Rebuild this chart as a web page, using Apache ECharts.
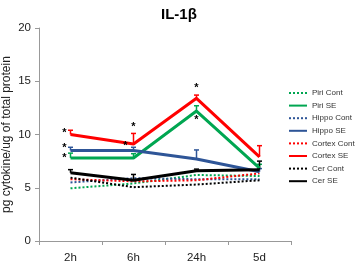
<!DOCTYPE html>
<html>
<head>
<meta charset="utf-8">
<script src="https://cdn.jsdelivr.net/npm/echarts@6/dist/echarts.min.js"></script>
<style>
  body { margin: 0; background: #fff; }
  #chart { width: 356px; height: 263px; }
</style>
</head>
<body>
<div id="chart"></div>
<script>
const times = ['2h', '6h', '24h', '5d']

// means
const piriCont = [4.95, 5.4, 6.2, 6.1]
const piriSE = [7.8, 7.8, 12.2, 6.85]
const hippoCont = [5.5, 5.9, 5.8, 5.8]
const hippoSE = [8.5, 8.5, 7.7, 6.5]
const cortexCont = [5.8, 5.6, 5.7, 6.35]
const cortexSE = [10.0, 9.1, 13.4, 7.9]
const cerCont = [5.95, 5.05, 5.3, 5.7]
const cerSE = [6.4, 5.7, 6.6, 6.7]

// upper ends of the error bars (SE groups only)
const piriSETop = [8.25, 8.2, 12.7, 7.2]
const hippoSETop = [8.8, 8.8, 8.55, 6.8]
const cortexSETop = [10.4, 10.1, 13.7, 8.95]
const cerSETop = [6.7, 6.25, 6.75, 7.5]

// significance stars: [time index, value, x offset]
const stars = [
  [0, 10.1, -6], [0, 8.7, -6], [0, 7.75, -6],
  [1, 10.7, 0], [1, 8.9, -8],
  [2, 14.35, 0], [2, 11.4, 0]
]

const GREEN = '#00a651'
const BLUE = '#2e5597'
const RED = '#ff0000'
const BLACK = '#000000'

function line(name, data, color, dotted) {
  return {
    name: name,
    type: 'line',
    data: data,
    symbol: 'none',
    silent: true,
    z: dotted ? 2 : 4,
    lineStyle: { color: color, width: dotted ? 2 : 3, type: dotted ? [2, 2] : 'solid' },
    itemStyle: { color: color }
  }
}

function errBar(means, tops, color) {
  return {
    type: 'custom',
    z: 3,
    silent: true,
    data: means.map((m, i) => [i, m, tops[i]]),
    renderItem(params, api) {
      const lo = api.coord([api.value(0), api.value(1)])
      const hi = api.coord([api.value(0), api.value(2)])
      const style = { stroke: color, lineWidth: 1.5 }
      return {
        type: 'group',
        children: [
          { type: 'line', shape: { x1: lo[0], y1: lo[1], x2: hi[0], y2: hi[1] }, style: style },
          { type: 'line', shape: { x1: hi[0] - 2.5, y1: hi[1], x2: hi[0] + 2.5, y2: hi[1] }, style: style }
        ]
      }
    }
  }
}

const chart = echarts.init(document.getElementById('chart'))
chart.setOption({
  animation: false,
  title: {
    text: 'IL-1β',
    left: 156,
    top: 2,
    textStyle: { fontFamily: 'Liberation Sans', fontSize: 15, fontWeight: 'bold', color: '#000' }
  },
  legend: {
    orient: 'vertical',
    left: 288,
    top: 89,
    padding: 0,
    itemWidth: 18,
    itemHeight: 10,
    itemGap: 4.6,
    itemStyle: { opacity: 0 },
    data: ['Piri Cont', 'Piri SE', 'Hippo Cont', 'Hippo SE', 'Cortex Cont', 'Cortex SE', 'Cer Cont', 'Cer SE'],
    textStyle: { fontFamily: 'Liberation Sans', fontSize: 8, color: '#333', width: 60, overflow: 'none' }
  },
  grid: { left: 39, right: 65, top: 28, bottom: 22, outerBoundsMode: 'none' },
  xAxis: {
    type: 'category',
    data: times,
    boundaryGap: true,
    axisLine: { lineStyle: { color: '#999' } },
    axisTick: { show: true, length: 4, lineStyle: { color: '#999' } },
    axisLabel: { fontFamily: 'Liberation Sans', fontSize: 11.5, color: '#222', margin: 11 }
  },
  yAxis: {
    type: 'value',
    min: 0,
    max: 20,
    interval: 5,
    name: 'pg cytokine/ug of total protein',
    nameLocation: 'middle',
    nameRotate: 90,
    nameGap: 26,
    nameMoveOverlap: false,
    nameTextStyle: { fontFamily: 'Liberation Sans', fontSize: 12, color: '#222' },
    axisLine: { show: true, lineStyle: { color: '#999' } },
    axisTick: { show: true, length: 4, lineStyle: { color: '#999' } },
    splitLine: { show: false },
    axisLabel: { fontFamily: 'Liberation Sans', fontSize: 11.5, color: '#222', margin: 8 }
  },
  series: [
    line('Piri Cont', piriCont, GREEN, true),
    line('Hippo Cont', hippoCont, BLUE, true),
    line('Cortex Cont', cortexCont, RED, true),
    line('Cer Cont', cerCont, BLACK, true),
    line('Piri SE', piriSE, GREEN, false),
    line('Hippo SE', hippoSE, BLUE, false),
    line('Cortex SE', cortexSE, RED, false),
    line('Cer SE', cerSE, BLACK, false),
    errBar(piriSE, piriSETop, GREEN),
    errBar(hippoSE, hippoSETop, BLUE),
    errBar(cortexSE, cortexSETop, RED),
    errBar(cerSE, cerSETop, BLACK),
    {
      type: 'custom',
      z: 5,
      silent: true,
      data: stars,
      renderItem(params, api) {
        const p = api.coord([api.value(0), api.value(1)])
        return {
          type: 'text',
          x: p[0] + api.value(2),
          y: p[1],
          style: { text: '*', fontFamily: 'Liberation Sans', fontSize: 11, fontWeight: 'bold', fill: '#000', align: 'center', verticalAlign: 'middle' }
        }
      }
    }
  ]
})
</script>
</body>
</html>
